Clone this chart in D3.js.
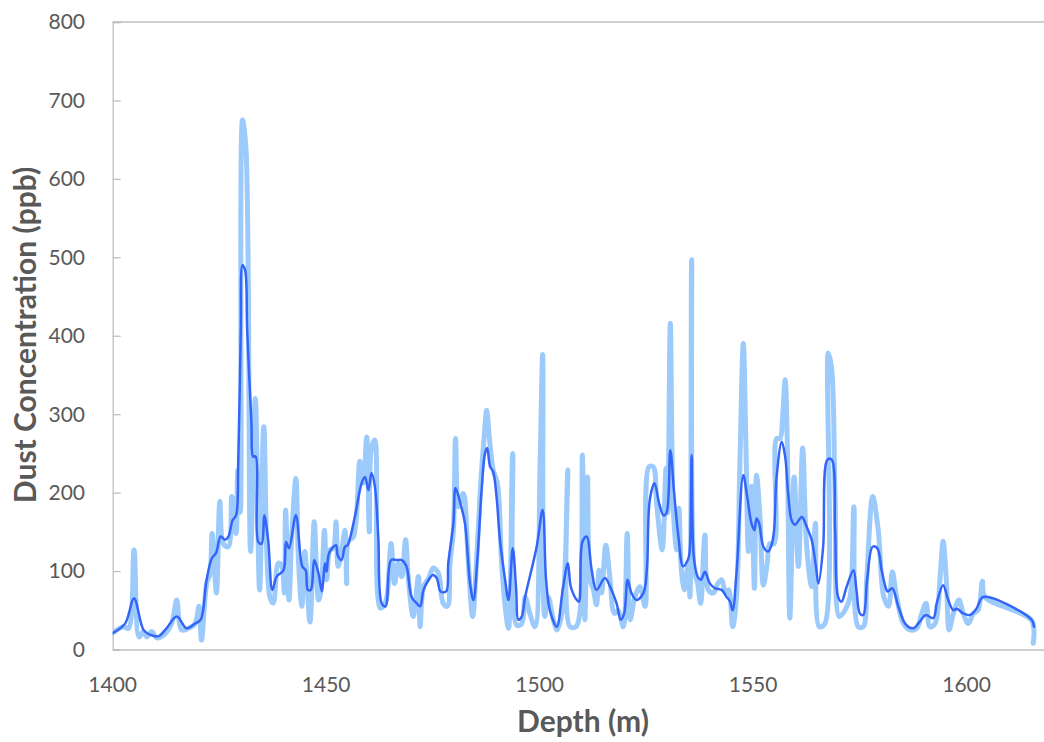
<!DOCTYPE html>
<html>
<head>
<meta charset="utf-8">
<script src="https://cdn.jsdelivr.net/npm/d3@7"></script>
<style>
  html, body { margin: 0; padding: 0; background: #ffffff; }
  svg { display: block; }
</style>
</head>
<body>
<svg id="chart" width="1044" height="742"></svg>
<script>
// ---- data ----
const xTicks = [1400, 1450, 1500, 1550, 1600];
const yTicks = [0, 100, 200, 300, 400, 500, 600, 700, 800];
const xTitle = "Depth (m)";
const yTitle = "Dust Concentration (ppb)";

const rawDepth = [1400.0,1402.5,1403.7,1405.0,1406.2,1407.2,1408.0,1409.1,1410.3,1411.9,1413.8,1415.0,1416.1,1417.7,1419.3,1420.2,1420.8,1422.0,1422.8,1423.3,1424.3,1425.1,1425.9,1427.1,1427.9,1428.9,1429.3,1429.9,1430.4,1431.2,1432.3,1433.4,1434.4,1435.4,1436.8,1437.6,1438.8,1439.6,1440.2,1440.5,1441.3,1441.9,1442.9,1443.5,1444.3,1445.0,1446.2,1447.2,1448.2,1448.8,1449.6,1450.1,1450.9,1451.7,1452.3,1452.8,1453.6,1454.4,1454.8,1455.2,1456.4,1457.9,1458.7,1459.5,1460.1,1460.6,1461.4,1462.6,1463.4,1464.2,1465.2,1466.0,1466.9,1467.7,1468.6,1469.2,1470.4,1471.6,1472.0,1472.8,1474.0,1475.1,1476.3,1477.4,1478.4,1479.0,1479.8,1480.3,1481.0,1482.1,1483.3,1484.3,1485.2,1486.2,1487.0,1487.6,1488.2,1489.1,1490.1,1491.1,1492.1,1492.7,1493.7,1494.6,1495.8,1496.6,1497.7,1498.9,1500.1,1500.7,1501.2,1502.0,1503.2,1504.1,1505.2,1506.0,1506.6,1507.1,1508.5,1509.4,1510.0,1510.6,1511.2,1511.8,1512.6,1513.3,1513.9,1514.5,1515.5,1516.5,1517.5,1518.4,1519.6,1520.5,1521.2,1522.3,1523.5,1524.7,1525.6,1526.6,1527.4,1528.7,1529.6,1530.0,1530.6,1531.3,1532.1,1532.6,1533.2,1533.9,1534.8,1535.2,1535.6,1536.2,1537.0,1537.7,1538.7,1539.5,1540.7,1541.7,1542.6,1543.6,1544.3,1545.2,1546.1,1546.9,1547.7,1548.3,1548.9,1549.6,1550.3,1550.8,1551.6,1552.4,1553.3,1553.9,1554.9,1555.5,1556.3,1556.9,1557.5,1558.0,1558.6,1559.6,1560.6,1561.6,1562.5,1563.7,1564.6,1565.5,1566.8,1567.6,1568.4,1569.2,1570.2,1571.5,1572.7,1573.6,1574.6,1575.8,1576.6,1578.0,1579.3,1580.6,1581.7,1582.6,1583.6,1585.2,1586.7,1588.3,1589.5,1590.5,1591.4,1592.6,1593.8,1594.5,1595.3,1595.9,1596.9,1598.2,1599.2,1600.4,1601.6,1602.7,1603.7,1604.3,1615.2,1615.6];
const rawDust = [21,29,27,127,16,23,16,23,15,18,33,63,25,27,33,55,12,84,97,148,72,189,135,131,195,148,229,175,675,640,125,320,76,284,67,59,110,106,72,178,63,140,218,114,55,125,35,163,63,76,152,89,127,129,163,106,125,152,84,138,144,240,212,271,150,257,267,53,55,67,135,84,110,93,140,93,42,93,29,80,91,104,97,59,55,110,152,269,182,199,110,42,110,212,271,305,271,229,212,110,46,27,250,31,33,67,46,29,237,376,42,67,38,25,46,110,229,29,29,46,248,38,220,89,76,57,101,72,133,89,46,50,29,148,38,67,80,55,233,233,186,127,231,174,416,178,127,180,101,76,110,67,497,101,84,59,146,76,72,84,89,72,76,29,67,237,390,263,125,208,78,222,169,82,110,135,135,269,269,297,344,263,40,220,106,257,135,80,161,29,33,378,357,195,42,50,67,182,29,29,89,195,152,67,55,99,67,33,25,27,46,59,29,33,93,138,84,25,46,63,46,33,46,50,87,67,37,8];

const smoothDepth = [1400.0,1402.9,1405.0,1407.2,1408.7,1410.7,1412.6,1415.0,1417.3,1419.3,1420.6,1422.0,1423.2,1424.2,1425.3,1426.3,1427.1,1428.1,1428.9,1429.4,1430.0,1430.4,1431.0,1431.5,1432.5,1432.9,1433.5,1434.1,1434.9,1435.5,1436.4,1437.4,1438.4,1440.0,1440.6,1441.3,1442.9,1444.4,1445.2,1445.7,1446.4,1447.2,1448.2,1449.0,1449.7,1450.1,1450.7,1452.3,1452.7,1453.6,1454.4,1455.0,1456.7,1458.3,1459.1,1459.9,1460.6,1461.4,1462.2,1463.0,1463.9,1465.2,1466.5,1467.7,1468.8,1470.0,1471.2,1472.0,1472.8,1474.0,1475.0,1475.9,1476.8,1478.1,1478.6,1479.8,1480.3,1481.3,1482.5,1483.7,1484.5,1485.4,1486.4,1487.2,1487.7,1488.4,1489.1,1489.9,1490.7,1491.9,1492.7,1493.7,1494.5,1495.0,1495.8,1496.6,1499.3,1500.7,1501.5,1502.4,1504.0,1505.4,1506.6,1507.3,1508.7,1509.2,1510.0,1511.0,1512.2,1513.3,1515.3,1516.5,1518.0,1519.0,1519.8,1520.6,1521.5,1522.7,1524.3,1525.1,1525.8,1526.9,1528.0,1529.0,1529.7,1530.6,1531.5,1532.5,1533.6,1534.7,1535.1,1535.6,1536.1,1537.0,1537.8,1538.7,1539.9,1541.1,1542.6,1543.8,1544.6,1545.2,1546.1,1547.7,1548.6,1549.6,1550.3,1550.8,1551.4,1552.4,1553.5,1554.3,1554.9,1555.5,1556.7,1557.5,1558.2,1559.0,1559.8,1561.4,1562.5,1563.7,1564.7,1565.3,1566.4,1567.4,1568.4,1569.2,1569.9,1570.7,1571.9,1573.5,1574.2,1575.0,1575.8,1576.7,1578.0,1579.1,1580.1,1581.1,1581.5,1582.6,1584.0,1585.6,1587.5,1589.1,1590.4,1592.2,1593.0,1594.5,1595.7,1596.9,1597.7,1599.2,1600.8,1602.3,1603.9,1615.2,1615.8];
const smoothDust = [21,33,65,25,19,17,27,42,27,33,38,89,116,123,144,140,144,165,171,237,407,490,484,407,288,246,246,137,135,171,140,76,93,101,137,129,171,106,101,76,76,114,97,74,110,99,123,133,120,114,131,133,169,212,220,203,225,208,144,59,55,114,114,114,106,67,59,55,76,89,95,91,74,74,110,161,206,189,161,84,63,114,203,250,257,233,227,195,140,89,63,129,76,38,42,67,131,178,89,50,29,76,110,80,63,61,137,144,101,76,91,80,59,38,46,89,72,63,72,101,191,212,186,171,174,254,199,144,106,114,123,248,118,93,89,99,84,78,76,67,61,50,97,222,195,161,152,167,161,131,125,133,152,220,265,246,199,165,159,169,157,140,106,84,131,242,242,152,67,61,80,101,76,46,44,89,131,129,101,78,74,78,55,33,27,36,44,40,59,82,63,50,52,46,44,52,67,38,29];

// ---- layout ----
const svg = d3.select("#chart");
const plotL = 112.7, plotR = 1052, plotT = 22, plotB = 649.5;

const x = d3.scaleLinear().domain([1400, 1620]).range([plotL, plotR]);
const y = d3.scaleLinear().domain([0, 800]).range([plotB, plotT]);

const gridColor = "#bfbfbf";
const textColor = "#595959";
const font = "Lato, 'Open Sans', 'Liberation Sans', sans-serif";

// plot frame top
svg.append("line").attr("x1", plotL).attr("x2", plotR).attr("y1", plotT).attr("y2", plotT)
  .attr("stroke", gridColor).attr("stroke-width", 1.3);

// y axis with inward ticks
const yAxis = d3.axisRight(y).tickValues(yTicks).tickSize(8).tickFormat("");
const gy = svg.append("g").attr("transform", `translate(${plotL},0)`).call(yAxis);
gy.selectAll("line").attr("stroke", gridColor).attr("stroke-width", 1.3);
gy.select(".domain").attr("stroke", gridColor).attr("stroke-width", 1.3);

// y tick labels
svg.append("g").selectAll("text").data(yTicks).join("text")
  .attr("x", 85).attr("y", d => y(d)).attr("dy", "0.35em")
  .attr("text-anchor", "end").attr("fill", textColor)
  .attr("font-family", font).attr("font-size", 21).text(d => d);

// x axis
const xAxis = d3.axisBottom(x).tickValues(xTicks).tickSize(0).tickFormat("");
const gx = svg.append("g").attr("transform", `translate(0,${plotB})`).call(xAxis);
gx.select(".domain").attr("stroke", gridColor).attr("stroke-width", 1.3);

svg.append("g").selectAll("text").data(xTicks).join("text")
  .attr("x", d => x(d)).attr("y", 685).attr("dy", "0.35em")
  .attr("text-anchor", "middle").attr("fill", textColor)
  .attr("font-family", font).attr("font-size", 21).text(d => d);

// titles
svg.append("text").attr("x", 583).attr("y", 721).attr("dy", "0.35em")
  .attr("text-anchor", "middle").attr("fill", textColor)
  .attr("font-family", font).attr("font-weight", "bold").attr("font-size", 30).text(xTitle);

svg.append("text").attr("transform", "translate(25,335) rotate(-90)").attr("dy", "0.35em")
  .attr("text-anchor", "middle").attr("fill", textColor)
  .attr("font-family", font).attr("font-weight", "bold").attr("font-size", 30).text(yTitle);

// clip
svg.append("clipPath").attr("id", "plotclip").append("rect")
  .attr("x", plotL).attr("y", plotT - 5).attr("width", plotR - plotL).attr("height", plotB - plotT + 3);

const plot = svg.append("g").attr("clip-path", "url(#plotclip)");

const rawData = rawDepth.map((d, i) => [d, rawDust[i]]);
const smoothData = smoothDepth.map((d, i) => [d, smoothDust[i]]);

const line = d3.line().x(d => x(d[0])).y(d => y(d[1])).curve(d3.curveCatmullRom.alpha(0.5));

plot.append("path").datum(rawData).attr("d", line)
  .attr("fill", "none").attr("stroke", "#9ccbfb").attr("stroke-width", 5)
  .attr("stroke-linejoin", "round").attr("stroke-linecap", "round");

plot.append("path").datum(smoothData).attr("d", line)
  .attr("fill", "none").attr("stroke", "#3565f8").attr("stroke-width", 2.5)
  .attr("stroke-linejoin", "round").attr("stroke-linecap", "round");
</script>
</body>
</html>
